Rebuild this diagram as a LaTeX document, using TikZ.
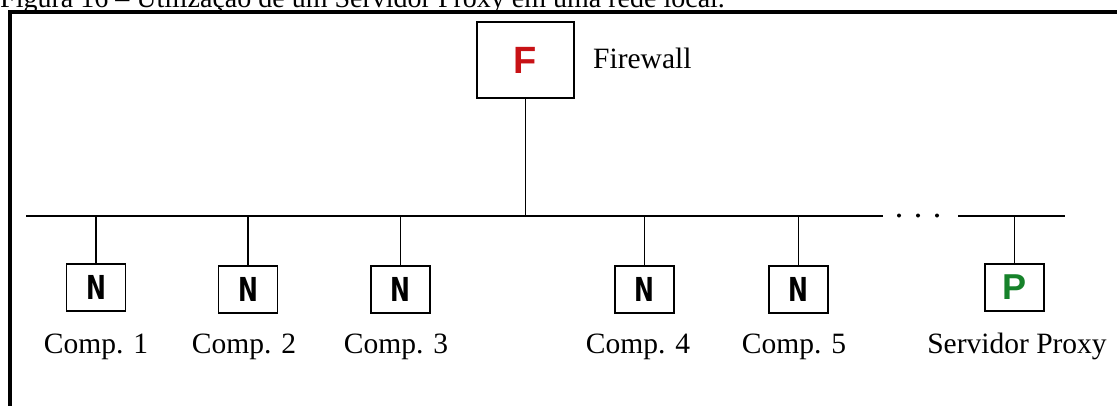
\documentclass[tikz,border=0pt]{standalone}
\usepackage{fontspec}
\setmainfont{Liberation Serif}
\setsansfont{Liberation Sans}
\newfontfamily\blockfont{DejaVu Sans}
\definecolor{fwred}{RGB}{200,18,22}
\definecolor{pxgreen}{RGB}{22,130,42}
\begin{document}
\begin{tikzpicture}[x=1pt,y=-1pt,
  wire/.style={line width=1.7pt,black},
  hostbox/.style={draw,line width=1.8pt,minimum width=59pt,minimum height=47pt,inner sep=0pt},
  hostletter/.style={font=\fontsize{33}{33}\selectfont\blockfont\bfseries},
  hostname/.style={anchor=base,inner sep=0pt,font=\fontsize{29.5}{32}\selectfont}]
  \useasboundingbox (0,0) rectangle (1117,405);
  \fill[white] (0,0) rectangle (1117,405);

  % caption above the frame (only its lower part falls on the page)
  \node[anchor=base west,inner sep=0pt,font=\fontsize{28}{30}\selectfont] (cap) at (0,7.5)
    {Figura 16 – Utilização de um Servidor Proxy em uma rede local.};

  % frame
  \draw[line width=4pt] (9.5,420) -- (9.5,11.5) -- (1130,11.5);

  % firewall
  \node[draw,line width=1.8pt,minimum width=97pt,minimum height=76pt,inner sep=0pt,
        font=\fontsize{38}{38}\selectfont\sffamily\bfseries,text=fwred] (fw) at (525.5,60) {F};
  \node[anchor=base west,inner sep=0pt,font=\fontsize{29.5}{32}\selectfont] (fwlbl) at (593,68) {Firewall};

  % bus
  \coordinate (busL) at (26,216);
  \coordinate (busM) at (883,216);
  \coordinate (busR1) at (958,216);
  \coordinate (busR2) at (1065,216);
  \draw[wire] (busL) -- (busM);
  \draw[wire] (busR1) -- (busR2);
  \foreach \dx/\nm in {899/d1,918/d2,937/d3}
    \fill (\dx,215.5) circle (2pt) coordinate (\nm);

  \draw[wire] (fw.south) -- (fw.south |- busL);

  % hosts
  \node[hostbox,hostletter] (c1) at (96,287.5) {\scalebox{0.72}[1]{N}};
  \node[hostbox,hostletter] (c2) at (248,289.5) {\scalebox{0.72}[1]{N}};
  \node[hostbox,hostletter] (c3) at (400.5,289.5) {\scalebox{0.72}[1]{N}};
  \node[hostbox,hostletter] (c4) at (644.5,289.5) {\scalebox{0.72}[1]{N}};
  \node[hostbox,hostletter] (c5) at (798.5,289.5) {\scalebox{0.72}[1]{N}};
  \node[hostbox,font=\fontsize{36}{36}\selectfont\sffamily\bfseries,text=pxgreen] (px) at (1014.5,287.5) {P};

  \foreach \h in {c1,c2,c3,c4,c5,px}
    \draw[wire] (\h.north) -- (\h.north |- busL);

  % host names
  \node[hostname] (l1) at (96,353) {Comp. 1};
  \node[hostname] (l2) at (244,353) {Comp. 2};
  \node[hostname] (l3) at (396,353) {Comp. 3};
  \node[hostname] (l4) at (638,353) {Comp. 4};
  \node[hostname] (l5) at (794,353) {Comp. 5};
  \node[hostname] (l6) at (1017,353) {Servidor Proxy};
\end{tikzpicture}
\end{document}
